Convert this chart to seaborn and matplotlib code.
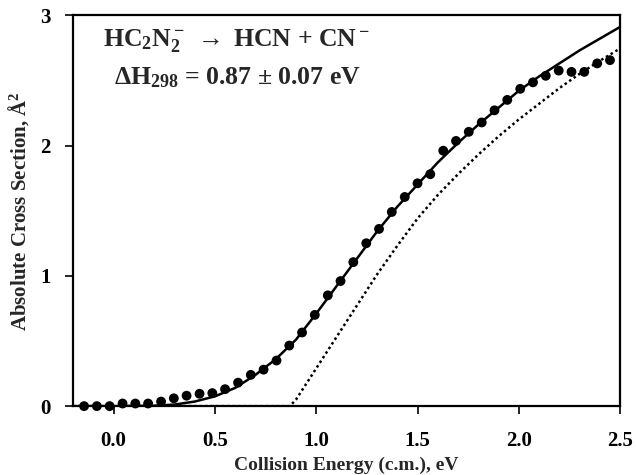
import numpy as np
import pandas as pd
import seaborn as sns
import matplotlib.pyplot as plt

energy = [-0.146, -0.083, -0.020, 0.044, 0.107, 0.170, 0.234, 0.297, 0.360, 0.424,
          0.487, 0.550, 0.614, 0.677, 0.740, 0.804, 0.867, 0.930, 0.993, 1.057,
          1.120, 1.183, 1.247, 1.310, 1.373, 1.437, 1.500, 1.563, 1.627, 1.690,
          1.753, 1.817, 1.880, 1.943, 2.007, 2.070, 2.133, 2.197, 2.260, 2.323,
          2.387, 2.450]
sigma = [0.0, 0.0, 0.0, 0.02, 0.02, 0.02, 0.035, 0.06, 0.08, 0.095,
         0.10, 0.13, 0.18, 0.24, 0.28, 0.35, 0.465, 0.565, 0.70, 0.85,
         0.96, 1.105, 1.25, 1.36, 1.49, 1.605, 1.71, 1.78, 1.96, 2.035,
         2.105, 2.177, 2.27, 2.35, 2.435, 2.485, 2.535, 2.575, 2.565, 2.565,
         2.63, 2.655]

#Convoluted model fit (solid)
fit_e = [-0.2, 0.0, 0.2, 0.3, 0.4, 0.5, 0.6, 0.7, 0.8, 0.9, 1.0, 1.1, 1.2, 1.3,
         1.4, 1.5, 1.6, 1.7, 1.8, 1.9, 2.0, 2.1, 2.2, 2.3, 2.4, 2.5]
fit_s = [0.0, 0.0, 0.003, 0.012, 0.035, 0.075, 0.14, 0.24, 0.36, 0.51, 0.71,
         0.92, 1.13, 1.34, 1.53, 1.70, 1.87, 2.02, 2.16, 2.29, 2.42, 2.53,
         2.63, 2.73, 2.82, 2.91]

#Unconvoluted model (dotted)
model_e = [-0.2, 0.87, 0.9, 1.0, 1.1, 1.2, 1.3, 1.4, 1.5, 1.6, 1.7, 1.8, 1.9,
           2.0, 2.1, 2.2, 2.3, 2.4, 2.5]
model_s = [0.0, 0.0, 0.05, 0.29, 0.53, 0.77, 1.01, 1.23, 1.44, 1.62, 1.78,
           1.93, 2.07, 2.20, 2.32, 2.44, 2.55, 2.65, 2.745]

pts = pd.DataFrame({'E': energy, 'sigma': sigma})
fit = pd.DataFrame({'E': fit_e, 'sigma': fit_s})
model = pd.DataFrame({'E': model_e, 'sigma': model_s})

sns.set_theme(style='ticks')
plt.rcParams['font.family'] = ['Liberation Serif', 'DejaVu Serif']
plt.rcParams['font.weight'] = 'bold'
plt.rcParams['mathtext.fontset'] = 'custom'
plt.rcParams['mathtext.rm'] = 'Liberation Serif:bold'
plt.rcParams['mathtext.bf'] = 'Liberation Serif:bold'
plt.rcParams['mathtext.it'] = 'Liberation Serif:bold:italic'

fig = plt.figure(figsize=(6.36, 4.75), dpi=100)
ax = fig.add_axes([0.115, 0.145, 0.860, 0.823])

sns.lineplot(data=model, x='E', y='sigma', ax=ax, color='black', lw=1.8,
             linestyle=(0, (1, 1.2)))
sns.lineplot(data=fit, x='E', y='sigma', ax=ax, color='black', lw=1.8)
sns.scatterplot(data=pts, x='E', y='sigma', ax=ax, color='black', s=50,
                edgecolor='none', zorder=5, clip_on=False)

ax.set_xlim(-0.2, 2.5)
ax.set_ylim(0, 3)
ax.set_xticks([0.0, 0.5, 1.0, 1.5, 2.0, 2.5])
ax.set_xticklabels(['0.0', '0.5', '1.0', '1.5', '2.0', '2.5'])
ax.set_yticks([0, 1, 2, 3])
ax.tick_params(direction='out', length=6, width=1.2, labelsize=15, colors='black')
ax.tick_params(axis='x', pad=12)
ax.tick_params(axis='y', pad=10)
for lab in ax.get_xticklabels() + ax.get_yticklabels():
    lab.set_fontweight('bold')
for s in ax.spines.values():
    s.set_visible(True)
    s.set_linewidth(1.6)
    s.set_color('black')

ax.set_xlabel('Collision Energy (c.m.), eV', fontsize=14, fontweight='bold', labelpad=4)
ax.set_ylabel('Absolute Cross Section, $\\mathregular{\\AA^2}$', fontsize=15,
              fontweight='bold', labelpad=7)

ax.text(0.055, 0.935, r'HC$_2$N$_2^-$ $\rightarrow$ HCN + CN$^-$', transform=ax.transAxes,
        fontsize=18.5, fontweight='bold', va='center', ha='left')
ax.text(0.075, 0.84, r'$\Delta$H$_{298}$ = 0.87 $\pm$ 0.07 eV', transform=ax.transAxes,
        fontsize=18.5, fontweight='bold', va='center', ha='left')

fig.savefig('out.png', dpi=100)
